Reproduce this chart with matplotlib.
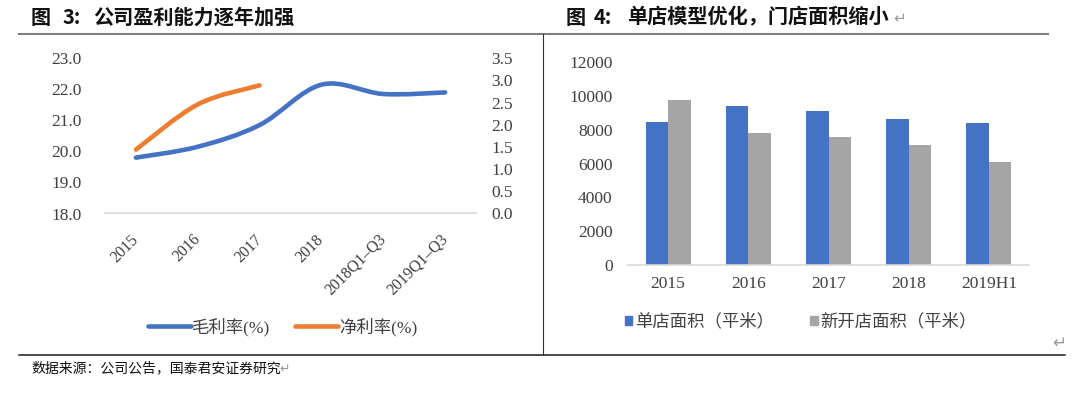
import matplotlib
matplotlib.use("Agg")
import matplotlib.pyplot as plt
from matplotlib.path import Path
from matplotlib.patches import PathPatch, Patch
from matplotlib.lines import Line2D
from matplotlib.font_manager import FontProperties
import numpy as np

# ---------------- data ----------------
margin_categories = ["2015", "2016", "2017", "2018", "2018Q1–Q3", "2019Q1–Q3"]
gross_margin = [19.8, 20.15, 20.85, 22.15, 21.85, 21.9]      # 毛利率(%)
net_margin = [1.44, 2.46, 2.89]                              # 净利率(%) 2015-2017
left_yticks = [18.0, 19.0, 20.0, 21.0, 22.0, 23.0]
right_yticks = [0.0, 0.5, 1.0, 1.5, 2.0, 2.5, 3.0, 3.5]

store_categories = ["2015", "2016", "2017", "2018", "2019H1"]
store_area = [8430, 9380, 9100, 8650, 8370]                  # 单店面积（平米）
new_store_area = [9750, 7780, 7550, 7110, 6070]              # 新开店面积（平米）
bar_yticks = [0, 2000, 4000, 6000, 8000, 10000, 12000]

# ---------------- style ----------------
W, H = 1080, 397
BLUE, ORANGE, GRAY = "#4472C4", "#ED7D31", "#A5A5A5"
TXT = "#404040"
CJK = "Noto Sans CJK SC"
SERIF = "Liberation Serif"
MIX = [SERIF, CJK, "DejaVu Sans"]

def fx(px):
    return px / W

def fy(py):
    return 1 - py / H

fig = plt.figure(figsize=(W / 100, H / 100), dpi=100)
fig.patch.set_facecolor("white")


def smooth_path(xs, ys):
    """Excel-style smoothed line as cubic Bezier segments."""
    pts = np.column_stack([xs, ys]).astype(float)
    n = len(pts)
    verts = [pts[0]]
    codes = [Path.MOVETO]
    for i in range(n - 1):
        p0 = pts[i - 1] if i > 0 else pts[i]
        p1 = pts[i]
        p2 = pts[i + 1]
        p3 = pts[i + 2] if i + 2 < n else pts[i + 1]
        c1 = p1 + (p2 - p0) / 6.0
        c2 = p2 - (p3 - p1) / 6.0
        verts += [c1, c2, p2]
        codes += [Path.CURVE4] * 3
    return Path(verts, codes)


# ---------------- left chart: margins ----------------
ax1 = fig.add_axes([fx(105), fy(213.5), fx(476) - fx(105), (213.5 - 58.3) / H])
ax1.set_xlim(-0.5, len(margin_categories) - 0.5)
ax1.set_ylim(left_yticks[0], left_yticks[-1])
ax1r = ax1.twinx()
ax1r.set_ylim(right_yticks[0], right_yticks[-1])

xg = np.arange(len(gross_margin))
ax1.add_patch(PathPatch(smooth_path(xg, gross_margin), fill=False, edgecolor=BLUE,
                        lw=3.3, capstyle="round", joinstyle="round", zorder=3))
xn = np.arange(len(net_margin))
ax1r.add_patch(PathPatch(smooth_path(xn, net_margin), fill=False, edgecolor=ORANGE,
                         lw=3.3, capstyle="round", joinstyle="round", zorder=3))

for a in (ax1, ax1r):
    for s in a.spines.values():
        s.set_visible(False)
    a.set_facecolor("none")
ax1.spines["bottom"].set_visible(True)
ax1.spines["bottom"].set_color("#D9D9D9")
ax1.spines["bottom"].set_linewidth(1.2)

ax1.set_yticks(left_yticks)
ax1.set_yticklabels([f"{v:.1f}" for v in left_yticks], fontfamily=SERIF, fontsize=12.5, color=TXT)
ax1.tick_params(axis="y", length=0, pad=17)
ax1r.set_yticks(right_yticks)
ax1r.set_yticklabels([f"{v:.1f}" for v in right_yticks], fontfamily=SERIF, fontsize=12.5, color=TXT)
ax1r.tick_params(axis="y", length=0, pad=11)

ax1.set_xticks(np.arange(len(margin_categories)))
ax1.tick_params(axis="x", length=0, pad=17)
ax1.set_xticklabels(margin_categories, rotation=45, ha="right", va="center",
                    rotation_mode="anchor", fontfamily=SERIF, fontsize=11.5, color=TXT)

leg1 = ax1.legend(
    handles=[Line2D([], [], color=BLUE, lw=3.3, solid_capstyle="round"),
             Line2D([], [], color=ORANGE, lw=3.3, solid_capstyle="round")],
    labels=["毛利率(%)", "净利率(%)"],
    loc="center left", bbox_to_anchor=(fx(148), fy(326.7)), bbox_transform=fig.transFigure,
    ncol=2, frameon=False, borderpad=0, borderaxespad=0,
    handlelength=2.5, handletextpad=0.05, columnspacing=1.4,
    prop=FontProperties(family=MIX, size=12.5, weight="light"))
for t in leg1.get_texts():
    t.set_color(TXT)

# ---------------- right chart: store area ----------------
ax2 = fig.add_axes([fx(628), fy(265), fx(1029) - fx(628), (265 - 62) / H])
xs = np.arange(len(store_categories))
bw = 0.28
ax2.bar(xs - bw / 2, store_area, bw, color=BLUE, zorder=2, label="单店面积（平米）")
ax2.bar(xs + bw / 2, new_store_area, bw, color=GRAY, zorder=2, label="新开店面积（平米）")
ax2.set_xlim(-0.5, len(store_categories) - 0.5)
ax2.set_ylim(bar_yticks[0], bar_yticks[-1])
for s in ax2.spines.values():
    s.set_visible(False)
ax2.spines["bottom"].set_visible(True)
ax2.spines["bottom"].set_color("#D9D9D9")
ax2.spines["bottom"].set_linewidth(1.2)
ax2.set_yticks(bar_yticks)
ax2.set_yticklabels([str(v) for v in bar_yticks], fontfamily=SERIF, fontsize=12.5, color=TXT)
ax2.tick_params(axis="y", length=0, pad=11)
ax2.set_xticks(xs)
ax2.set_xticklabels(store_categories, fontfamily=SERIF, fontsize=12.5, color=TXT)
ax2.tick_params(axis="x", length=0, pad=8)

leg2 = ax2.legend(
    handles=[Patch(color=BLUE), Patch(color=GRAY)],
    labels=["单店面积（平米）", "新开店面积（平米）"],
    loc="center left", bbox_to_anchor=(fx(625), fy(321.7)), bbox_transform=fig.transFigure,
    ncol=2, frameon=False, borderpad=0, borderaxespad=0,
    handlelength=0.42, handleheight=0.42, handletextpad=0.15, columnspacing=2.1,
    prop=FontProperties(family=[CJK, "DejaVu Sans"], size=12.5, weight="light"))
for t in leg2.get_texts():
    t.set_color(TXT)

# ---------------- frame lines & titles ----------------
fig.add_artist(Line2D([fx(19), fx(1048)], [fy(34), fy(34)], color="#7F7F7F", lw=1.5,
                      transform=fig.transFigure))
fig.add_artist(Line2D([fx(19), fx(1065)], [fy(355), fy(355)], color="#1A1A1A", lw=1.1,
                      transform=fig.transFigure))
fig.add_artist(Line2D([fx(543), fx(543)], [fy(34), fy(355)], color="#333333", lw=0.8,
                      transform=fig.transFigure))

title_kw = dict(fontfamily=[CJK, "DejaVu Sans"], fontsize=14.5, fontweight="bold",
                va="center", ha="left", color="#111111")
fig.text(fx(31), fy(17), "图", **title_kw)
fig.text(fx(63), fy(17), "3:", **title_kw)
fig.text(fx(93), fy(17), "公司盈利能力逐年加强", **title_kw)
fig.text(fx(566), fy(17), "图", **title_kw)
fig.text(fx(594), fy(17), "4:", **title_kw)
fig.text(fx(627), fy(17), "单店模型优化，门店面积缩小", **title_kw)
fig.text(fx(893), fy(18), "↵", fontfamily="DejaVu Sans", fontsize=11, color="#999999",
         va="center", ha="left")

fig.text(fx(31), fy(368.5), "数据来源：公司公告，国泰君安证券研究", fontfamily=[CJK, "DejaVu Sans"],
         fontsize=10, color="#111111", va="center", ha="left")
fig.text(fx(279), fy(369), "↵", fontfamily="DejaVu Sans", fontsize=9, color="#999999",
         va="center", ha="left")
fig.text(fx(1052), fy(343), "↵", fontfamily="DejaVu Sans", fontsize=12, color="#999999",
         va="center", ha="left")

fig.savefig("out.png", dpi=100, facecolor="white")
